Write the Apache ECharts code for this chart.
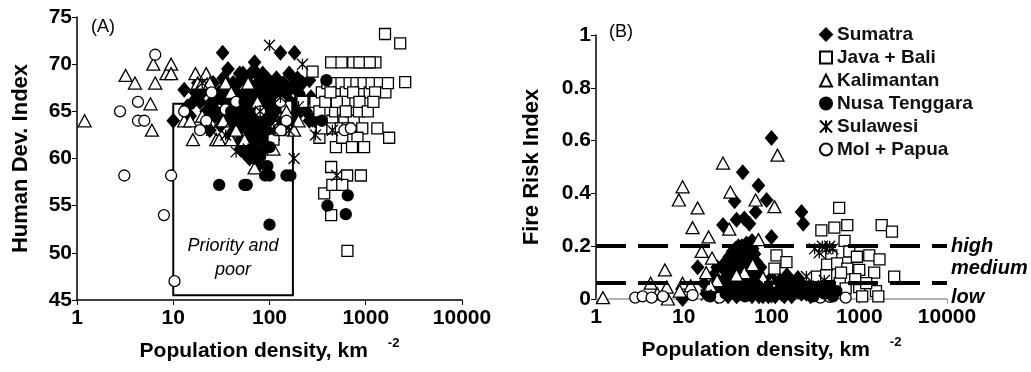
<!DOCTYPE html>
<html>
<head>
<meta charset="utf-8">
<script src="https://cdn.jsdelivr.net/npm/echarts@6/dist/echarts.min.js"></script>
<style>
  html, body { margin: 0; padding: 0; background: #fff; }
  #chart { width: 1031px; height: 372px; }
</style>
</head>
<body>
<div id="chart"></div>
<script>
// panel A: population density (km-2) vs human development index
const sumatraA = [[10,64],[13,67.3],[14,65.5],[16,66],[18,68],[20,67],[22,65],[25,66],[28,65],[32.6,71.2],[30,67],[32,64],[34,66],[35,68],[36,65],[38,67],[40,66],[40,64],[42,68],[45,65],[45,67],[49,69],[48,63],[50,66],[50,62],[52,64],[55,67],[55,61],[58,65],[60,68],[60,63],[62,66],[70,70.2],[65,64],[68,62],[70,67],[70,65],[72,61],[75,68],[75,63],[80,66],[80,64],[85,69],[85,62],[90,67],[90,65],[95,63],[100,66],[100,64],[105,68],[110,62],[110,67],[115,65],[120,63],[125,68],[130,71.2],[130,66],[135,64],[140,68],[145,65],[150,67],[160,69],[165,66],[182,71.2],[175,64],[180,68],[190,66],[200,67],[210,65],[220,68],[230,66],[260,68.3],[260,64],[280,64.1],[300,64],[320,64],
  [15,64.5],[17,67],[19,66],[21,64],[23,67.5],[24,63],[26,68],[27,64.5],[29,66.5],[31,63.5],[33,68.5],[37,69.5],[39,62.5],[41,65.5],[43,63],[44,66.5],[46,64],[47,68],[51,65],[53,69],[54,63.5],[56,66],[57,68.5],[59,62],[61,64.5],[63,67.5],[64,69],[66,63],[67,65.5],[69,61.5],[71,66],[73,64],[74,69],[76,62],[78,67],[82,63],[84,65.5],[87,67.5],[88,61],[92,64],[94,68.5],[97,62],[98,65],[102,67],[107,64.5],[112,66],[118,68.5],[122,65.5],[128,67],[138,66.5],[142,63.5],[155,64.5],[168,67.5],[185,65],[195,68.5],[215,66.5],[240,65],[270,66.5],[56,60.5],[62,60],[50,61],[80,59.5]];
const javaA = [[110,62],[130,63],[150,65.5],[220,66],[280,69.2],[300,66],[330,65],[350,67],[330,62.2],[400,68],[420,66],[437,70.2],[450,64],[470,68],[480,65],[490,61.2],[520,67],[540,66],[560,68],[580,65],[600,64],[620,67],[650,66],[680,68],[700,65],[742,70.2],[750,64],[780,66],[800,68],[850,65],[900,67],[950,68],[980,70.2],[1000,66],[1100,67],[1150,68],[1260,70.2],[1400,68],[1600,67],[1700,68],[1585,73.2],[2280,72.2],[2570,68.1],[350,63.2],[450,63.2],[550,63.2],[650,63.2],[920,63.2],[1320,63.2],[570,62.2],[820,62.2],[1750,62.2],[720,61.2],[960,61.2],[437,59.1],[640,58.2],[890,58.2],[370,56.3],[450,57.2],[570,57.2],[437,54],[645,50.2],
  [380,66],[500,66],[620,65],[740,67],[860,66],[1050,65],[1250,67],[430,67],[1200,66],[560,70.2],[860,70.2],[1100,70.2]];
const kalimantanA = [[1.2,64],[3.2,68.8],[4,68],[5.8,65.8],[6,63],[6.2,70],[6.5,68],[8.5,69],[9.5,70],[9.5,69],[13,64],[15,64],[16,62],[17,69],[18,68],[20,68],[22,69],[24,68],[28,62],[30,62],[33,64],[35,68],[40,67],[40,62],[45,63],[55,62],[60,68],[70,59],[75,66],[110,61],[150,65],[180,63],[200,64],[20,64.5]];
const nusaA = [[30,57.2],[55,57.2],[58,57.2],[100,53],[90,58.2],[95,59.2],[100,58.2],[150,58.2],[165,58.2],[70,60],[80,60.2],[100,61.2],[75,62],[65,61],[60,63.5],[400,55],[620,54.1],[650,56.1],[390,68.3],[350,64],[55,66],[40,65]];
const sulawesiA = [[100,72],[220,70],[180,60],[500,58.2],[25,63],[60,61],[100,68],[130,66.5],[45,60.7],[300,62.5],[110,63],[160,63],[450,63],[40,64],[80,65],[200,65.5],[20,68],[35,62.5],[100,67.5]];
const papuaA = [[2.8,65],[3.1,58.2],[4.3,66],[4.3,64],[5,64],[6.5,71],[8,54],[9.5,58.2],[10.3,47],[13,65],[19,63],[22,64],[25,67],[35,65.2],[45,66],[80,65],[130,66],[150,64],[600,63],[700,63.2]];

// panel B: population density vs fire risk index
const sumatraB = [[9.7,0],[14.4,0.12],[24,0.12],[28,0.28],[38,0.37],[40,0.3],[49,0.305],[47,0.48],[56,0.285],[66,0.33],[71,0.43],[88,0.375],[100,0.61],[100,0.235],[220,0.33],[230,0.285],
  [33,0.16],[36,0.18],[38,0.14],[40,0.17],[42,0.2],[45,0.15],[47,0.19],[50,0.13],[52,0.21],[55,0.19],[58,0.17],[60,0.22],[62,0.15],[65,0.12],[40,0.11],[45,0.1],[55,0.11],[70,0.1],[75,0.12],[32,0.09],[36,0.13],[48,0.16],[53,0.17],
  [20,0.03],[25,0.02],[30,0.05],[35,0.03],[40,0.01],[45,0.04],[50,0.02],[55,0.05],[60,0.01],[65,0.03],[70,0.02],[75,0.06],[80,0.01],[85,0.04],[90,0.02],[100,0.03],[110,0.01],[120,0.05],[130,0.02],[150,0.03],[170,0.01],[200,0.04],[250,0.02],[300,0.05],[30,0.08],[40,0.07],[50,0.09],[60,0.08],[80,0.07],[100,0.08],[150,0.09],[200,0.08],[17,0.06],[22,0.09],
  [18,0.02],[22,0.04],[24,0.01],[26,0.06],[28,0.03],[32,0.01],[33,0.06],[37,0.05],[38,0.02],[42,0.06],[43,0.02],[47,0.07],[48,0.03],[52,0.04],[53,0.07],[57,0.02],[58,0.06],[62,0.05],[63,0.02],[67,0.07],[68,0.04],[72,0.01],[73,0.05],[78,0.03],[82,0.05],[88,0.06],[92,0.01],[95,0.05],[105,0.06],[115,0.03],[125,0.07],[135,0.04],[140,0.01],[160,0.06],[180,0.03],[190,0.06],[220,0.02],[230,0.05],[270,0.04],[280,0.01],[320,0.02],[350,0.06],[380,0.03],[420,0.05],[470,0.02],[520,0.04],
  [34,0.12],[37,0.15],[39,0.19],[41,0.14],[43,0.17],[44,0.12],[46,0.2],[49,0.18],[51,0.15],[54,0.16],[57,0.2],[59,0.14],[61,0.19],[63,0.21],[64,0.17],[67,0.14],[30,0.14],[29,0.11]];
const javaB = [[590,0.345],[370,0.26],[520,0.27],[730,0.28],[680,0.22],[1800,0.28],[2360,0.255],[2500,0.085],[114,0.165],[108,0.115],[148,0.14],[480,0.165],[770,0.18],[940,0.16],[1300,0.165],[1700,0.15],[430,0.13],[560,0.135],[730,0.115],[1000,0.11],[1480,0.1],[330,0.085],[1000,0.045],[1550,0.03],[1080,0.01],[1650,0.01],[450,0.05],[600,0.06],[700,0.04],[900,0.075],[1200,0.06],[420,0.09],[620,0.1]];
const kalimantanB = [[1.2,0.005],[4.2,0.06],[6.1,0.11],[6.6,0],[8.8,0.375],[9.7,0.425],[9.7,0.06],[12.6,0.27],[14.4,0.345],[16,0.18],[18,0.1],[19.2,0.235],[21,0.155],[28,0.515],[33,0.265],[34,0.405],[49,0.1],[61,0.13],[66,0.375],[71,0.225],[108,0.35],[117,0.545],[24,0.07],[6.4,0.045],[5,0.02],[9,0.03],[12,0.05],[20,0.05],[40,0.09],[80,0.08],[100,0.06]];
const nusaB = [[30,0.02],[40,0.04],[50,0.01],[60,0.03],[70,0.05],[80,0.02],[90,0.04],[100,0.01],[120,0.03],[140,0.05],[160,0.02],[180,0.04],[400,0.02],[450,0.04],[500,0.01],[550,0.03],[350,0.03],[300,0.01],[20,0.01]];
const sulawesiB = [[310,0.19],[460,0.2],[350,0.175],[250,0.085],[190,0.035],[18,0.015],[420,0.19],[380,0.2],[500,0.19],[300,0.05],[400,0.07],[200,0.02],[100,0.05],[50,0.03]];
const papuaB = [[2.8,0.005],[3.4,0.01],[4.3,0.005],[5.8,0.01],[12.6,0.015],[25.5,0.005],[700,0.005],[460,0.008],[360,0.005]];

const regions = ['Sumatra', 'Java + Bali', 'Kalimantan', 'Nusa Tenggara', 'Sulawesi', 'Mol + Papua'];
// drawing order: diamonds underneath, open markers over them, filled circles last
const drawOrder = [0, 1, 2, 5, 4, 3];
const priorityBox = [[10, 45.5], [175, 65.8]];
const riskLevels = [0.2, 0.06];

const FONT = 'Liberation Sans, Arial, sans-serif';
const STAR = 'path://M0,0L10,10M10,0L0,10M5,0L5,10';

const markers = {
  'Sumatra': { symbol: 'diamond', size: [12, 14], fill: '#000' },
  'Java + Bali': { symbol: 'rect', size: 11, fill: '#fff' },
  'Kalimantan': { symbol: 'triangle', size: [13, 12], fill: '#fff' },
  'Nusa Tenggara': { symbol: 'circle', size: 11, fill: '#000' },
  'Sulawesi': { symbol: STAR, size: 11, fill: 'transparent' },
  'Mol + Papua': { symbol: 'circle', size: 11, fill: '#fff' }
};

function makeSeries(name, data, idx) {
  const m = markers[name];
  return {
    name: name,
    type: 'scatter',
    xAxisIndex: idx,
    yAxisIndex: idx,
    symbol: m.symbol,
    symbolSize: m.size,
    itemStyle: { color: m.fill, borderColor: '#000', borderWidth: 1.3, opacity: 1 },
    emphasis: { disabled: true },
    data: data
  };
}

const chart = echarts.init(document.getElementById('chart'));

const xName = '{a|Population density, km}{b|-2}';
const xNameStyle = {
  rich: {
    a: { fontFamily: FONT, fontSize: 21, fontWeight: 'bold', color: '#000' },
    b: { fontFamily: FONT, fontSize: 13, fontWeight: 'bold', color: '#000', padding: [0, 0, 16, 20], verticalAlign: 'bottom' }
  }
};
const tickText = { fontFamily: FONT, fontSize: 21, fontWeight: 'bold', color: '#000' };

function logAxis(idx, lineColor) {
  return {
    type: 'log', gridIndex: idx, logBase: 10, min: 1, max: 10000,
    name: xName, nameLocation: 'middle', nameGap: 37, nameTextStyle: xNameStyle,
    axisLine: { lineStyle: { color: lineColor, width: 1.5 } },
    axisTick: { length: 5, lineStyle: { color: lineColor } },
    minorTick: { show: false },
    axisLabel: Object.assign({ margin: 8, formatter: v => String(Math.round(v)) }, tickText),
    splitLine: { show: false }
  };
}

const dataA = [sumatraA, javaA, kalimantanA, nusaA, sulawesiA, papuaA];
const dataB = [sumatraB, javaB, kalimantanB, nusaB, sulawesiB, papuaB];
const seriesA = drawOrder.map(i => makeSeries(regions[i], dataA[i], 0));
const seriesB = drawOrder.map(i => makeSeries(regions[i], dataB[i], 1));

// outlined "Priority and poor" box
seriesA[0].markArea = {
  silent: true,
  itemStyle: { color: 'transparent', borderColor: '#000', borderWidth: 2 },
  label: {
    show: true, position: 'insideBottom', distance: 14,
    formatter: 'Priority and\npoor',
    fontFamily: FONT, fontSize: 18, fontStyle: 'italic', color: '#000', lineHeight: 24
  },
  data: [[{ xAxis: priorityBox[0][0], yAxis: priorityBox[0][1] }, { xAxis: priorityBox[1][0], yAxis: priorityBox[1][1] }]]
};

// risk thresholds
seriesB[0].markLine = {
  silent: true,
  symbol: 'none',
  lineStyle: { color: '#000', width: 4, type: [30, 12] },
  label: {
    show: true, position: 'end', distance: 4,
    fontFamily: FONT, fontSize: 20, fontStyle: 'italic', fontWeight: 'bold', color: '#000', lineHeight: 29
  },
  data: [
    { yAxis: riskLevels[0], label: { formatter: 'high' } },
    { yAxis: riskLevels[1], label: { formatter: 'medium\nlow' } }
  ]
};

const yName = { fontFamily: FONT, fontSize: 22, fontWeight: 'bold', color: '#000' };

chart.setOption({
  animation: false,
  backgroundColor: '#fff',
  title: [
    { text: '(A)', left: 86, top: 13, textStyle: { fontFamily: FONT, fontSize: 18, fontWeight: 'normal', color: '#000' } },
    { text: '(B)', left: 604, top: 18, textStyle: { fontFamily: FONT, fontSize: 18, fontWeight: 'normal', color: '#000' } }
  ],
  legend: {
    data: regions,
    orient: 'vertical', left: 814, top: 20,
    itemWidth: 12, itemHeight: 12, itemGap: 4,
    selectedMode: false,
    textStyle: { fontFamily: FONT, fontSize: 19, fontWeight: 'bold', color: '#111', lineHeight: 19 }
  },
  grid: [
    { left: 77, right: 569, top: 17, bottom: 72 },
    { left: 596, right: 84, top: 35, bottom: 73 }
  ],
  xAxis: [logAxis(0, '#000'), logAxis(1, '#999')],
  yAxis: [
    {
      type: 'value', gridIndex: 0, min: 45, max: 75, interval: 5,
      name: 'Human Dev. Index', nameLocation: 'middle', nameGap: 45, nameTextStyle: yName,
      axisLine: { show: true, lineStyle: { color: '#000', width: 1.5 } },
      axisTick: { show: true, length: 5 },
      axisLabel: Object.assign({ margin: 5 }, tickText),
      splitLine: { show: false }
    },
    {
      type: 'value', gridIndex: 1, min: 0, max: 1, interval: 0.2,
      name: 'Fire Risk Index', nameLocation: 'middle', nameGap: 53, nameTextStyle: yName,
      axisLine: { show: true, lineStyle: { color: '#000', width: 1.5 } },
      axisTick: { show: true, length: 5 },
      axisLabel: Object.assign({ margin: 5 }, tickText),
      splitLine: { show: false }
    }
  ],
  series: seriesA.concat(seriesB)
});
</script>
</body>
</html>
